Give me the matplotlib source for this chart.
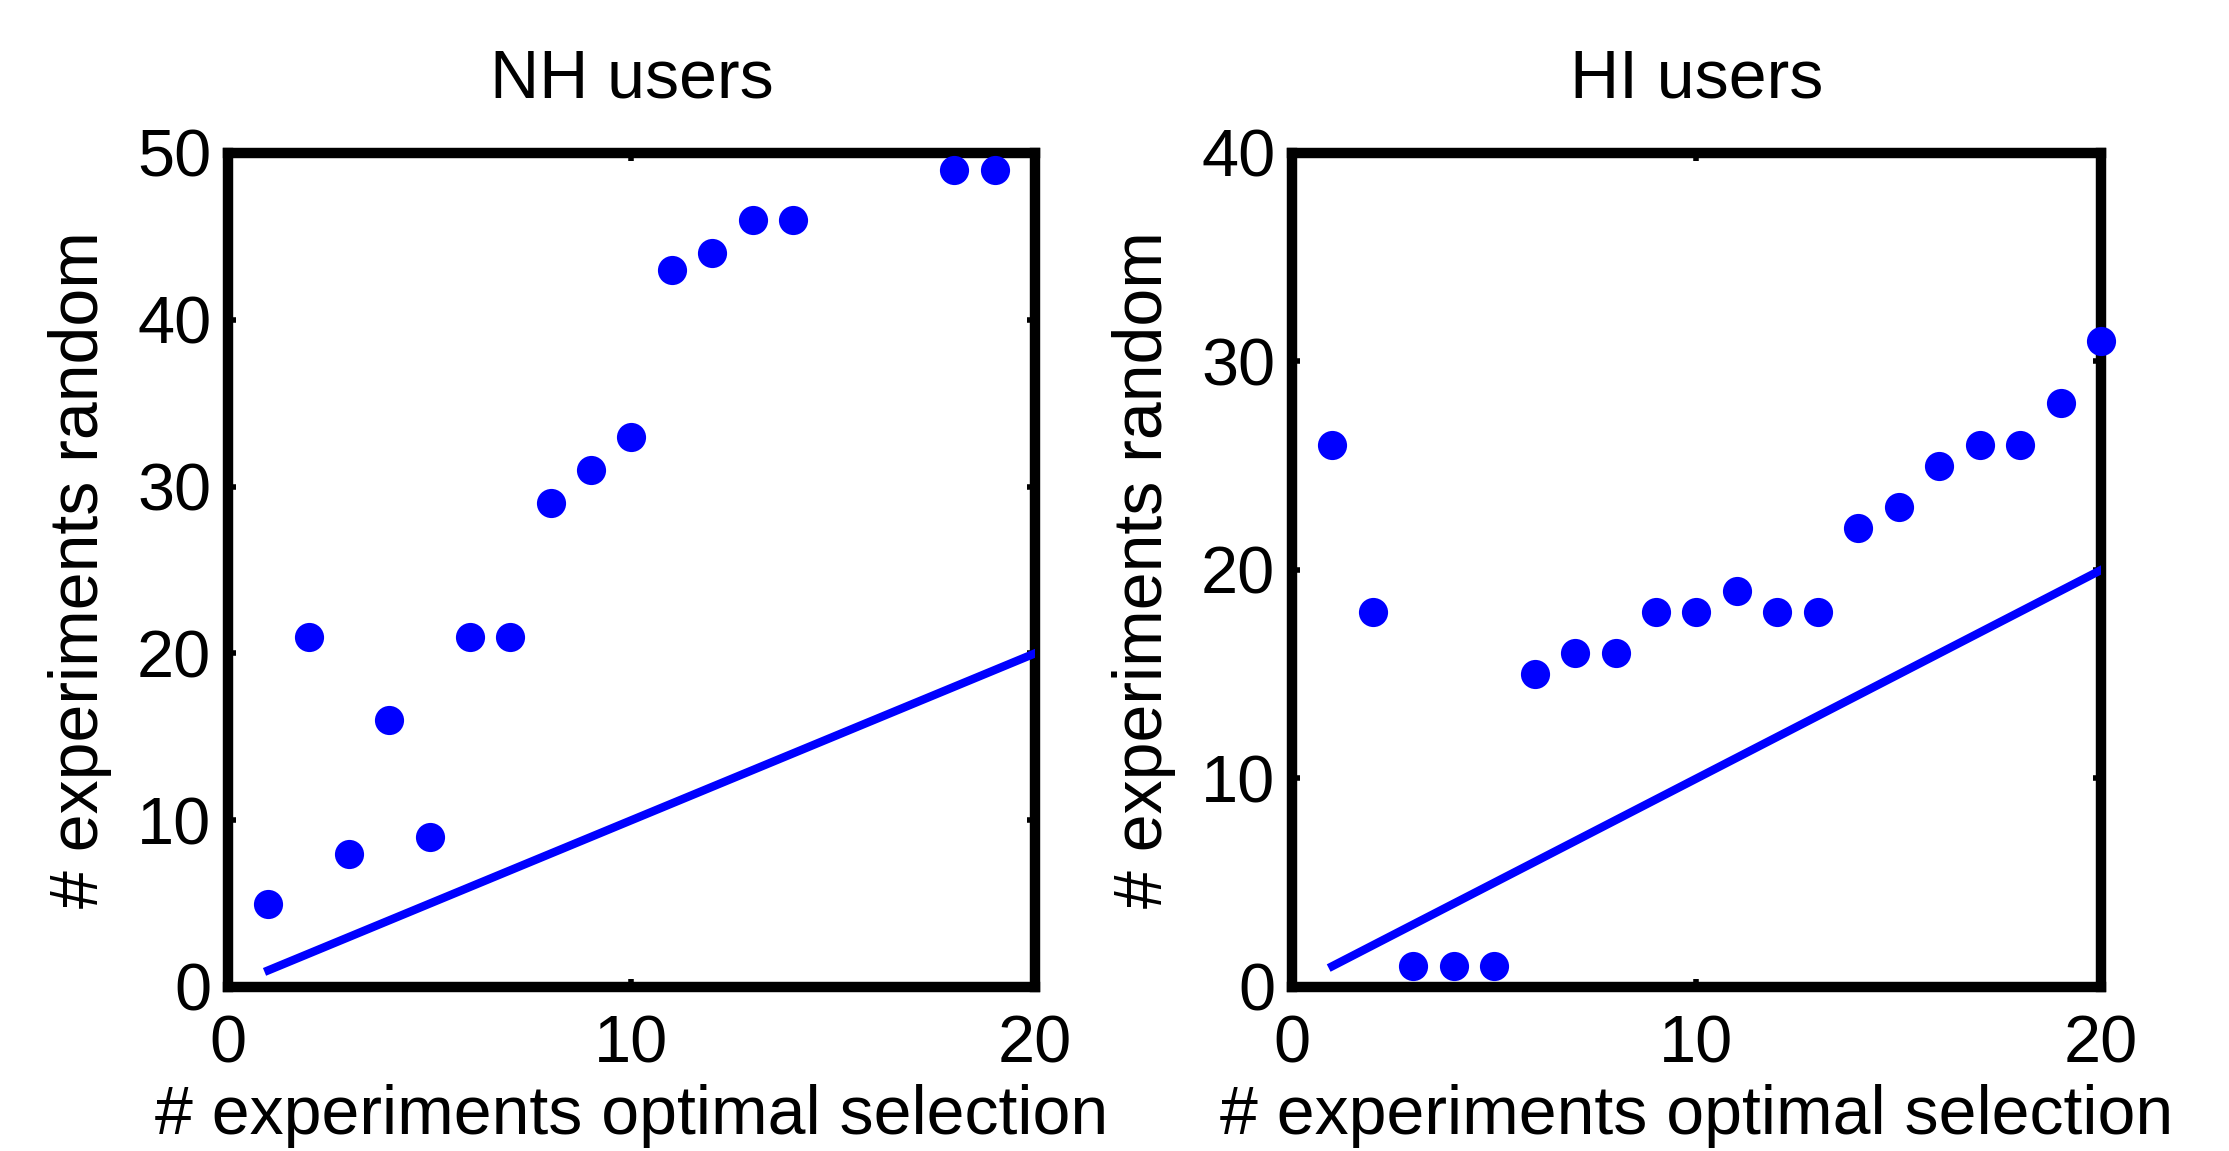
import numpy as np
import matplotlib.pyplot as plt

plt.rcParams['font.family'] = ['Liberation Sans', 'DejaVu Sans']

# NH users
nh_x = [1, 2, 3, 4, 5, 6, 7, 8, 9, 10, 11, 12, 13, 14, 18, 19]
nh_y = [5, 21, 8, 16, 9, 21, 21, 29, 31, 33, 43, 44, 46, 46, 49, 49]

# HI users
hi_x = list(range(1, 21))
hi_y = [26, 18, 1, 1, 1, 15, 16, 16, 18, 18, 19, 18, 18, 22, 23, 25, 26, 26, 28, 31]

# reference line y = x
ref_x = [1, 20]
ref_y = [1, 20]

fs = 49
blue = (0, 0, 1)

fig = plt.figure(figsize=(22.29, 11.51), dpi=100)
ax1 = fig.add_axes([0.1023, 0.1425, 0.362, 0.7246])
ax2 = fig.add_axes([0.5796, 0.1425, 0.363, 0.7246])

panels = [
    (ax1, nh_x, nh_y, 'NH users', 50, [0, 10, 20, 30, 40, 50]),
    (ax2, hi_x, hi_y, 'HI users', 40, [0, 10, 20, 30, 40]),
]

for ax, x, y, title, ymax, yticks in panels:
    ax.plot(x, y, 'o', color=blue, markersize=21, markeredgewidth=0,
            clip_on=False, zorder=4)
    ax.plot(ref_x, ref_y, '-', color=blue, linewidth=6, zorder=3)
    ax.set_xlim(0, 20)
    ax.set_ylim(0, ymax)
    ax.set_xticks([0, 10, 20])
    ax.set_yticks(yticks)
    for s in ax.spines.values():
        s.set_linewidth(7.5)
        s.set_zorder(2)
    ax.tick_params(direction='in', length=6, width=4, labelsize=fs - 1,
                   top=True, right=True)
    ax.tick_params(axis='x', pad=20)
    ax.tick_params(axis='y', pad=12)
    ax.set_title(title, fontsize=fs, pad=40)
    ax.set_xlabel('# experiments optimal selection', fontsize=fs, labelpad=5)
    ax.set_ylabel('# experiments random', fontsize=fs, labelpad=18)

plt.savefig('out.png', dpi=100)
